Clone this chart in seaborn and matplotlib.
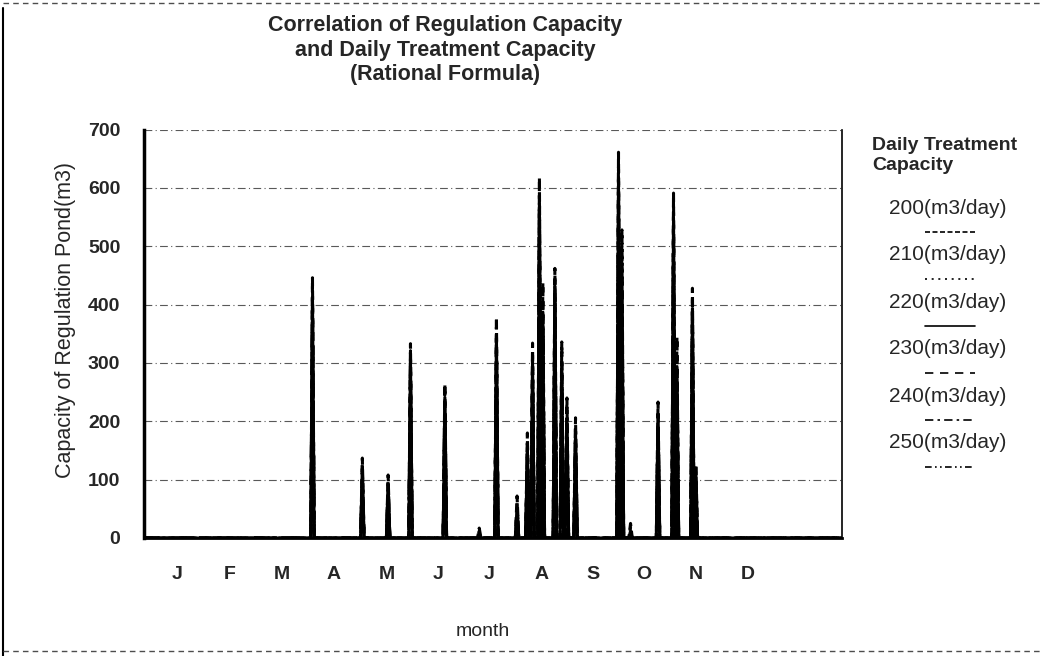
import numpy as np
import pandas as pd
import matplotlib
matplotlib.use("Agg")
import matplotlib.pyplot as plt
from matplotlib.lines import Line2D
import seaborn as sns

### Dados (volume do reservatório por evento de chuva)
dias_evento = [98, 127, 142, 155, 175, 195, 205, 217, 223, 226, 230, 232,
               239, 243, 246, 251, 276, 278, 283, 299, 308, 310, 319, 321]
cap_200 = [446, 137, 108, 333, 264, 17, 378, 72, 180, 334, 617, 437,
           462, 336, 240, 206, 661, 528, 25, 233, 591, 344, 428, 126]
cap_210 = [431, 129, 101, 321, 251, 12, 361, 63, 169, 317, 597, 409,
           446, 319, 224, 193, 641, 490, 18, 219, 572, 316, 409, 117]
cap_220 = [413, 118, 93, 307, 241, 8, 347, 52, 155, 303, 574, 386,
           427, 298, 204, 183, 618, 458, 12, 208, 548, 293, 393, 105]
cap_230 = [399, 111, 83, 290, 227, 4, 331, 45, 145, 285, 556, 357,
           412, 283, 189, 169, 599, 419, 7, 193, 529, 265, 373, 97]
cap_240 = [381, 100, 77, 279, 217, 0, 313, 34, 131, 271, 532, 334,
           393, 263, 170, 159, 576, 386, 3, 182, 506, 241, 357, 85]
cap_250 = [367, 93, 67, 263, 203, 0, 299, 27, 121, 253, 513, 305,
           378, 247, 155, 145, 557, 347, 0, 167, 487, 213, 337, 77]
capacidades = ["200(m3/day)", "210(m3/day)", "220(m3/day)",
               "230(m3/day)", "240(m3/day)", "250(m3/day)"]
meses = ["J", "F", "M", "A", "M", "J", "J", "A", "S", "O", "N", "D"]
pos_meses = [19, 50, 80, 110, 141, 171, 201, 231, 261, 291, 321, 351]
ticks_y = [0, 100, 200, 300, 400, 500, 600, 700]
n_dias = 407

estilos = {"200(m3/day)": (3, 1.5), "210(m3/day)": (1.2, 2.8), "220(m3/day)": "",
           "230(m3/day)": (5, 4), "240(m3/day)": (5, 2.5, 1.5, 2.5),
           "250(m3/day)": (4, 2, 1, 2, 1, 2)}

### Série diária
dia = np.arange(n_dias)
tabela = []
for nome, valores in zip(capacidades, [cap_200, cap_210, cap_220, cap_230, cap_240, cap_250]):
    volume = np.zeros(n_dias)
    volume[dias_evento] = valores
    tabela.append(pd.DataFrame({"dia": dia, "volume": volume, "capacidade": nome}))
df = pd.concat(tabela, ignore_index=True)

### Figura
sns.set_style("white")
plt.rcParams["font.family"] = ["Liberation Sans", "DejaVu Sans"]
W, H = 1043, 656
fig = plt.figure(figsize=(W / 100, H / 100), dpi=100)
ax = fig.add_axes([144 / W, 1 - 538 / H, (842 - 144) / W, (538 - 129.5) / H])

sns.lineplot(data=df, x="dia", y="volume", style="capacidade", dashes=estilos,
             color="black", lw=2.2, estimator=None, legend=False, ax=ax)
ax.set_xlim(0, n_dias - 1)
ax.set_ylim(0, 700)
ax.set_yticks(ticks_y)
ax.set_xticks(pos_meses)
ax.set_xticklabels(meses)
ax.grid(axis="y", color="0.35", linestyle=(0, (7, 3, 1, 3)), lw=0.8)
ax.grid(axis="x", visible=False)
ax.set_axisbelow(True)
ax.set_xlabel("")
ax.set_ylabel("")
ax.spines["top"].set_visible(False)
ax.spines["left"].set_linewidth(2.5)
ax.spines["bottom"].set_linewidth(2)
ax.spines["right"].set_linewidth(1.2)
for s in ["left", "bottom", "right"]:
    ax.spines[s].set_color("black")
ax.tick_params(axis="y", length=0, pad=17, labelsize=14)
ax.tick_params(axis="x", length=0, pad=20, labelsize=14)
for lbl in ax.get_xticklabels() + ax.get_yticklabels():
    lbl.set_fontweight("bold")

fig.text(445 / W, 1 - 15 / H, "Correlation of Regulation Capacity\nand Daily Treatment Capacity\n(Rational Formula)",
         ha="center", va="top", fontsize=15.5, fontweight="bold", linespacing=1.22)
fig.text(66 / W, 1 - 320 / H, "Capacity of Regulation Pond(m3)", rotation=90,
         ha="center", va="center", fontsize=15.5)
fig.text(483 / W, 1 - 632 / H, "month", ha="center", va="center", fontsize=14)

### Legenda
fig.text(872 / W, 1 - 137 / H, "Daily Treatment\nCapacity", ha="left", va="top",
         fontsize=14, fontweight="bold", linespacing=1.25)
for i, nome in enumerate(capacidades):
    y_txt = 208 + 47 * i
    fig.text(948 / W, 1 - y_txt / H, nome, ha="center", va="center", fontsize=15)
    traco = estilos[nome]
    ls = "-" if traco == "" else (0, traco)
    y_lin = 1 - (y_txt + 24) / H
    fig.add_artist(Line2D([925 / W, 975 / W], [y_lin, y_lin], color="black", lw=1.2, linestyle=ls))

### Moldura
fig.add_artist(Line2D([3 / W, 3 / W], [0, 1 - 8 / H], color="black", lw=1.5))
fig.add_artist(Line2D([3 / W, 1], [1 - 3 / H, 1 - 3 / H], color="0.3", lw=1, linestyle=(0, (4, 3))))
fig.add_artist(Line2D([3 / W, 1], [5 / H, 5 / H], color="0.3", lw=1, linestyle=(0, (4, 3))))

fig.savefig("out.png", dpi=100)
